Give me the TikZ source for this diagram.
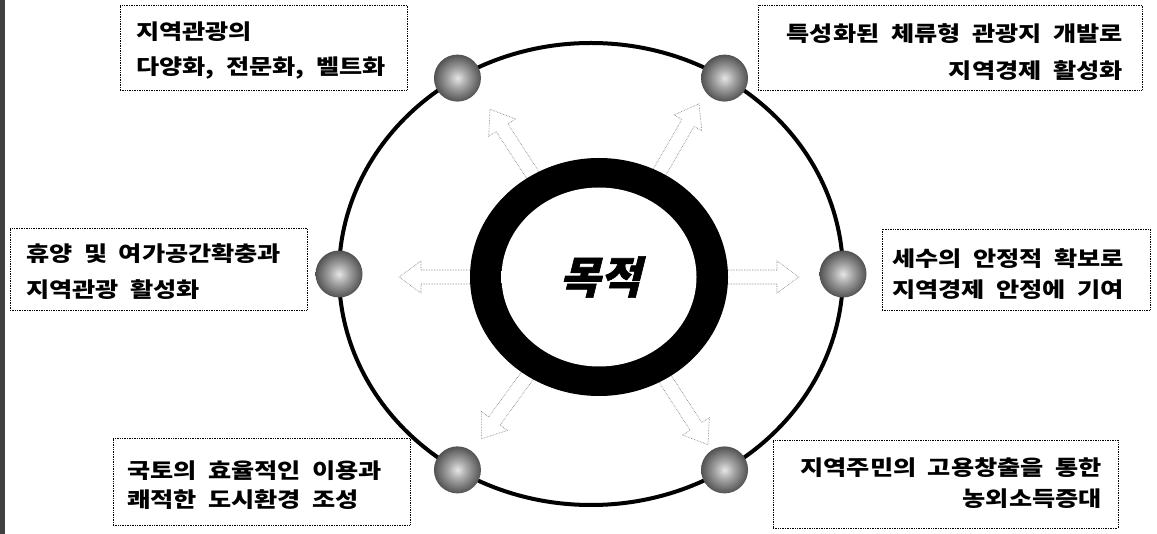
\documentclass[tikz,border=0pt]{standalone}
\usepackage{fontspec}
\usetikzlibrary{shapes.geometric}
\newfontfamily\kr{Noto Sans CJK KR}[WordSpace=2.0, FakeStretch=1.2]
\newfontfamily\krtitle{Noto Sans CJK KR}[FakeSlant=0.25, FakeBold=1.5]
\pgfdeclareradialshading{spotshade}{\pgfpoint{0bp}{0bp}}{color(0bp)=(black!10); color(10bp)=(black!35); color(26bp)=(black!70); color(40bp)=(black!88); color(50bp)=(black!95)}
\pgfdeclareradialshading{glowshade}{\pgfpoint{0bp}{0bp}}{color(0bp)=(white); color(43bp)=(white); color(50bp)=(black!35)}
\tikzset{
  tbox/.style={draw=black, densely dotted, line width=0.7pt, inner sep=0pt, rectangle},
  ttext/.style={inner sep=0pt},
  spot/.style={circle, shade, shading=spotshade, minimum size=47pt, inner sep=0pt},
  blockarrow/.style={draw=black!55, densely dotted, line width=0.6pt},
  bigring/.style={draw=black, line width=4pt}
}
\begin{document}
\begin{tikzpicture}[x=1pt,y=-1pt]
\useasboundingbox (0,0) rectangle (1157,534);
\fill[white] (0,0) rectangle (1157,534);
\fill[black!75] (0,0) rectangle (5,534);

% big orbit
\draw[bigring] (591,274) ellipse [x radius=252, y radius=231];

% block arrows
\foreach \a in {180,0,123,60,234,303} {
  \draw[blockarrow, shift={(599,277)}, rotate=\a]
    (110,-7) -- (178,-7) -- (178,-16) -- (200,0) -- (178,16) -- (178,7) -- (110,7) -- cycle;
}

% center ring
\node (ring) at (599,277) [ellipse, fill=black, minimum width=258pt, minimum height=238pt, inner sep=0pt] {};
\node (core) at (599,277) [ellipse, shade, shading=glowshade, minimum width=195pt, minimum height=179pt, inner sep=0pt] {};
\node (title) at (600,277) [inner sep=0pt, font=\krtitle\bfseries\fontsize{44}{44}\selectfont] {목적};

% spots on orbit
\node[spot] (s1) at ({591+252*cos(122)},{274-231*sin(122)}) {};
\node[spot] (s2) at ({591+252*cos(58)},{274-231*sin(58)}) {};
\node[spot] (s3) at (339,274) {};
\node[spot] (s4) at (843,274) {};
\node[spot] (s5) at ({591+252*cos(238)},{274-231*sin(238)}) {};
\node[spot] (s6) at ({591+252*cos(302)},{274-231*sin(302)}) {};

% text boxes
\node[tbox, minimum width=287pt, minimum height=85pt] (b1) at (263.5,47.5) {};
\node[ttext, anchor=west, align=left, font=\kr\bfseries\fontsize{21}{35}\selectfont] (t1) at (136,51) {지역관광의\\다양화, 전문화, 벨트화};

\node[tbox, minimum width=384pt, minimum height=85pt] (b2) at (950,47.5) {};
\node[ttext, anchor=east, align=right, font=\kr\bfseries\fontsize{21}{37}\selectfont] (t2) at (1123,52) {특성화된 체류형 관광지 개발로\\지역경제 활성화};

\node[tbox, minimum width=297pt, minimum height=82pt] (b3) at (158.5,269) {};
\node[ttext, anchor=west, align=left, font=\kr\bfseries\fontsize{21}{36}\selectfont] (t3) at (26,272) {휴양 및 여가공간확충과\\지역관광 활성화};

\node[tbox, minimum width=268pt, minimum height=81pt] (b4) at (1016,269.5) {};
\node[ttext, anchor=west, align=left, font=\kr\bfseries\fontsize{21}{31}\selectfont] (t4) at (892,274) {세수의 안정적 확보로\\지역경제 안정에 기여};

\node[tbox, minimum width=297pt, minimum height=87pt] (b5) at (261.5,481.5) {};
\node[ttext, anchor=west, align=left, font=\kr\bfseries\fontsize{21}{29}\selectfont] (t5) at (127,485) {국토의 효율적인 이용과\\쾌적한 도시환경 조성};

\node[tbox, minimum width=345pt, minimum height=88pt] (b6) at (945.5,484) {};
\node[ttext, anchor=east, align=right, font=\kr\bfseries\fontsize{21}{31}\selectfont] (t6) at (1102,483.5) {지역주민의 고용창출을 통한\\농외소득증대};
\end{tikzpicture}
\end{document}
